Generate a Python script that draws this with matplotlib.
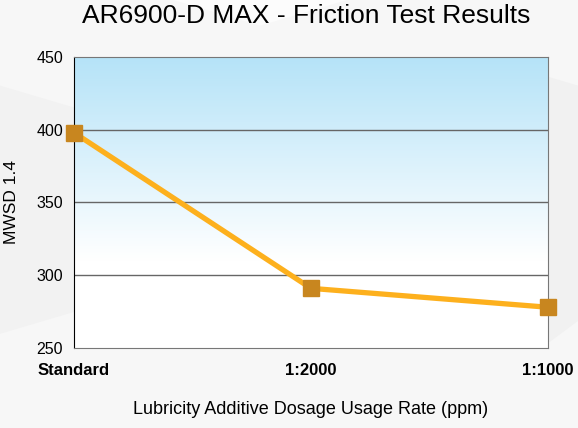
import numpy as np
import matplotlib.pyplot as plt
import matplotlib.patches as patches
from matplotlib.colors import LinearSegmentedColormap

plt.rcParams['font.family'] = ['Liberation Sans', 'DejaVu Sans']

categories = ["Standard", "1:2000", "1:1000"]
mwsd = [398, 291, 278]
yticks = [250, 300, 350, 400, 450]

fig = plt.figure(figsize=(5.78, 4.28), dpi=100)
fig.patch.set_facecolor("#f7f7f7")

# faint hexagon pattern behind everything
hexes = [
    [(0.00, 0.80), (0.20, 0.72), (0.20, 0.30), (0.00, 0.22)],
    [(0.20, 0.72), (0.45, 0.82), (0.70, 0.72), (0.70, 0.30), (0.45, 0.20), (0.20, 0.30)],
    [(0.70, 0.72), (0.95, 0.82), (1.00, 0.80), (1.00, 0.25), (0.95, 0.20), (0.70, 0.30)],
    [(0.30, 1.00), (0.45, 0.94), (0.60, 1.00)],
]
shades = ["#f2f2f2", "#fbfbfb", "#f1f1f1", "#fcfcfc"]
for pts, c in zip(hexes, shades):
    fig.patches.append(patches.Polygon(pts, closed=True, transform=fig.transFigure,
                                       facecolor=c, edgecolor="none", zorder=-10))

ax = fig.add_axes([74/578, 1 - 348/428, (548 - 74)/578, (348 - 57)/428])

# sky-blue to white gradient in the plot area
cmap = LinearSegmentedColormap.from_list("sky", [(0, "#ffffff"), (0.3, "#ffffff"), (1, "#b5e3f8")])
grad = np.linspace(0, 1, 256).reshape(-1, 1)
ax.imshow(grad, cmap=cmap, aspect="auto", origin="lower",
          extent=[0, 1, 0, 1], transform=ax.transAxes, zorder=0)

x = np.arange(len(categories))
ax.plot(x, mwsd, color="#fdb01d", linewidth=3.8, zorder=3, clip_on=False)
ax.plot(x, mwsd, linestyle="none", marker="s", markersize=11,
        color="#c8861f", zorder=4, clip_on=False)

ax.set_xlim(0, 2)
ax.set_ylim(250, 450)
ax.set_yticks(yticks)
ax.set_yticklabels([str(v) for v in yticks], fontsize=11.5)
ax.set_xticks(x)
ax.set_xticklabels(categories, fontsize=12, fontweight="bold")
ax.tick_params(length=0, pad=8)
ax.tick_params(axis="x", pad=11)
for v in [300, 350, 400]:
    ax.axhline(v, color="#666666", linewidth=1, zorder=1)

for side in ["top", "right", "bottom"]:
    ax.spines[side].set_color("#777777")
ax.spines["left"].set_color("#000000")

ax.set_ylabel("MWSD 1.4", fontsize=12.5, labelpad=12)
ax.set_xlabel("Lubricity Additive Dosage Usage Rate (ppm)", fontsize=13, labelpad=16)
fig.text(0.53, 0.962, "AR6900-D MAX - Friction Test Results", fontsize=19,
         ha="center", va="center")

fig.savefig("out.png", dpi=100, facecolor=fig.get_facecolor())
